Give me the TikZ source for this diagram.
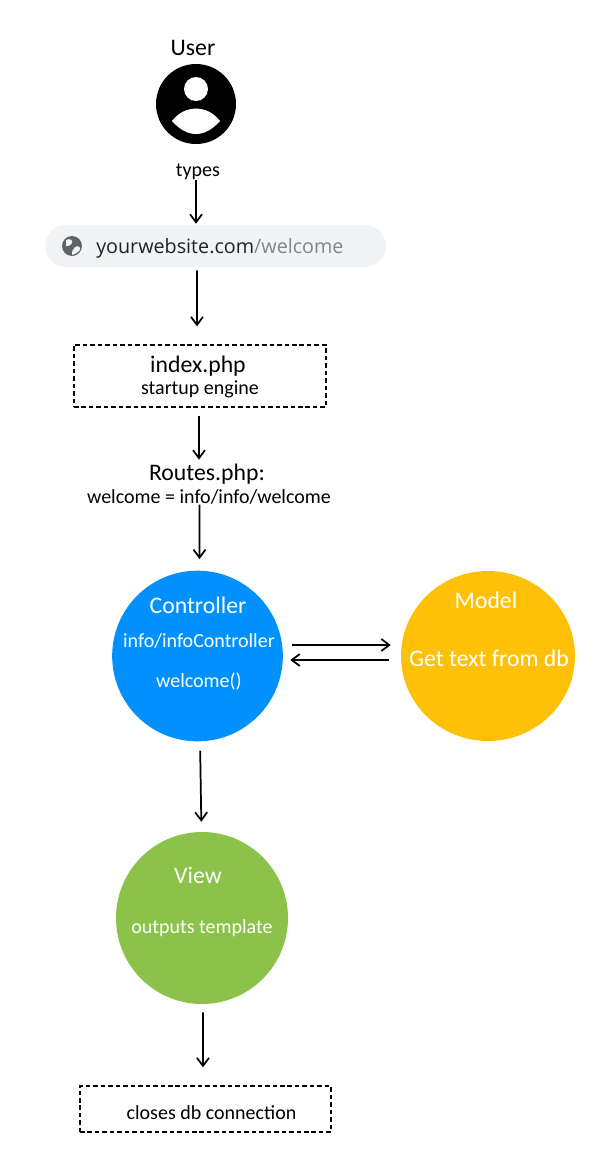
\documentclass[tikz,border=0pt]{standalone}
\usepackage{fontspec}
\setmainfont{Carlito}
\newfontfamily\urlfont{Open Sans}
\usetikzlibrary{arrows.meta,shapes.geometric}

\definecolor{ctrlblue}{HTML}{0091FF}
\definecolor{modelamber}{HTML}{FFC107}
\definecolor{viewgreen}{HTML}{8BC34A}
\definecolor{barfill}{HTML}{F1F3F4}
\definecolor{globegray}{HTML}{5F6368}
\definecolor{urldark}{HTML}{202124}
\definecolor{urlgray}{HTML}{80868B}

\tikzset{
	flow/.style={draw=black,line width=1.3pt,-{Straight Barb[length=6pt,width=9pt,line width=1.3pt]}},
	dashbox/.style={draw=black,line width=1pt,dash pattern={on 3.4pt off 2.2pt},inner sep=0pt,align=center},
	bigtxt/.style={inner sep=0pt,font=\fontsize{17.8}{20}\selectfont},
	smalltxt/.style={inner sep=0pt,font=\fontsize{15}{17}\selectfont},
	disc/.style={circle,inner sep=0pt,minimum size=#1}
}

\begin{document}
\begin{tikzpicture}[x=0.75pt,y=0.75pt,yscale=-1,xscale=1]
	\useasboundingbox (0,0) rectangle (611,1161);

	% User
	\node[bigtxt] (usertitle) at (193,48) {User};
	\node[disc=60pt,fill=black] (usericon) at (196,104) {};
	\fill[white] (196,89) circle [radius=12];
	\fill[white] (172,121) .. controls (180,111) and (188,109) .. (196,108.5) .. controls (204,109) and (212,111) .. (220,121) .. controls (212,130) and (204,134) .. (196,134) .. controls (188,134) and (180,130) .. (172,121) -- cycle;
	\node[smalltxt] (types) at (198,172) {types};

	% Address bar
	\node[rounded corners=15.75pt,fill=barfill,minimum width=255.75pt,minimum height=31.5pt,inner sep=0pt] (urlbar) at (215.5,246) {};
	\node[disc=15pt,fill=globegray] (globe) at (72,246) {};
	\fill[barfill] (66,240) .. controls (70,238) and (73,240) .. (72,243) .. controls (70,245) and (69,247) .. (66,246) -- cycle;
	\fill[barfill] (75,247) .. controls (78,245) and (81,247) .. (80,250) .. controls (78,253) and (75,254) .. (72,255) .. controls (71,252) and (73,249) .. (75,247) -- cycle;
	\node[inner sep=0pt,anchor=west,font=\urlfont\fontsize{14.8}{17}\selectfont] (urltext) at (96,248) {\textcolor{urldark}{yourwebsite.com}\textcolor{urlgray}{/welcome}};

	% Boxes and routes
	\node[dashbox,minimum width=189pt,minimum height=46.5pt] (indexbox) at (200,376) {};
	\node[bigtxt] (indextitle) at (198,366) {index.php};
	\node[smalltxt] (indexsub) at (200,389) {startup engine};
	\node[bigtxt] (routestitle) at (207,474) {Routes.php:};
	\node[smalltxt] (routessub) at (209,497) {welcome = info/info/welcome};

	% Circles
	\node[disc=128pt,fill=ctrlblue] (controller) at (197.5,656) {};
	\node[bigtxt,text=white] (ctrltitle) at (198,605) {Controller};
	\node[smalltxt,text=white] (ctrlname) at (199,641) {info/infoController};
	\node[smalltxt,text=white] (ctrlfunc) at (199,682) {welcome()};

	\node[ellipse,inner sep=0pt,minimum width=130.5pt,minimum height=127.5pt,fill=modelamber] (model) at (488,656) {};
	\node[bigtxt,text=white] (modeltitle) at (486,600) {Model};
	\node[bigtxt,text=white] (modeltext) at (489,658) {Get text from db};

	\node[disc=129pt,fill=viewgreen] (view) at (202,918) {};
	\node[bigtxt,text=white] (viewtitle) at (198,875) {View};
	\node[smalltxt,text=white] (viewtext) at (202,928) {outputs template};

	\node[dashbox,minimum width=188.25pt,minimum height=34.5pt] (closesbox) at (205.5,1109) {};
	\node[smalltxt] (closestext) at (211.5,1113) {closes db connection};

	% Arrows
	\draw[flow] ([xshift=-1.5pt]types.south) -- ([xshift=-14.6pt,yshift=-0.75pt]urlbar.north);
	\draw[flow,shorten <=2.25pt,shorten >=13.5pt] ([xshift=-13.9pt]urlbar.south) -- ([xshift=-2.25pt]indexbox.north);
	\draw[flow,shorten <=6pt,shorten >=3pt] ([xshift=-0.75pt]indexbox.south) -- ([xshift=-6pt]routestitle.north);
	\draw[flow,shorten >=8.5pt] ([xshift=-7.1pt]routessub.south) -- ([xshift=1.5pt]controller.north);
	\draw[flow] ([xshift=6.9pt,yshift=-8.25pt]controller.east) -- ([xshift=-7.5pt,yshift=-8.25pt]model.west);
	\draw[flow] ([xshift=-9pt,yshift=3pt]model.west) -- ([xshift=5.4pt,yshift=3pt]controller.east);
	\draw[flow,shorten <=6.75pt,shorten >=7.5pt] ([xshift=1.9pt]controller.south) -- ([xshift=-0.4pt]view.north);
	\draw[flow,shorten <=6pt,shorten >=13.5pt] ([xshift=0.75pt]view.south) -- ([xshift=-1.9pt]closesbox.north);
\end{tikzpicture}
\end{document}
